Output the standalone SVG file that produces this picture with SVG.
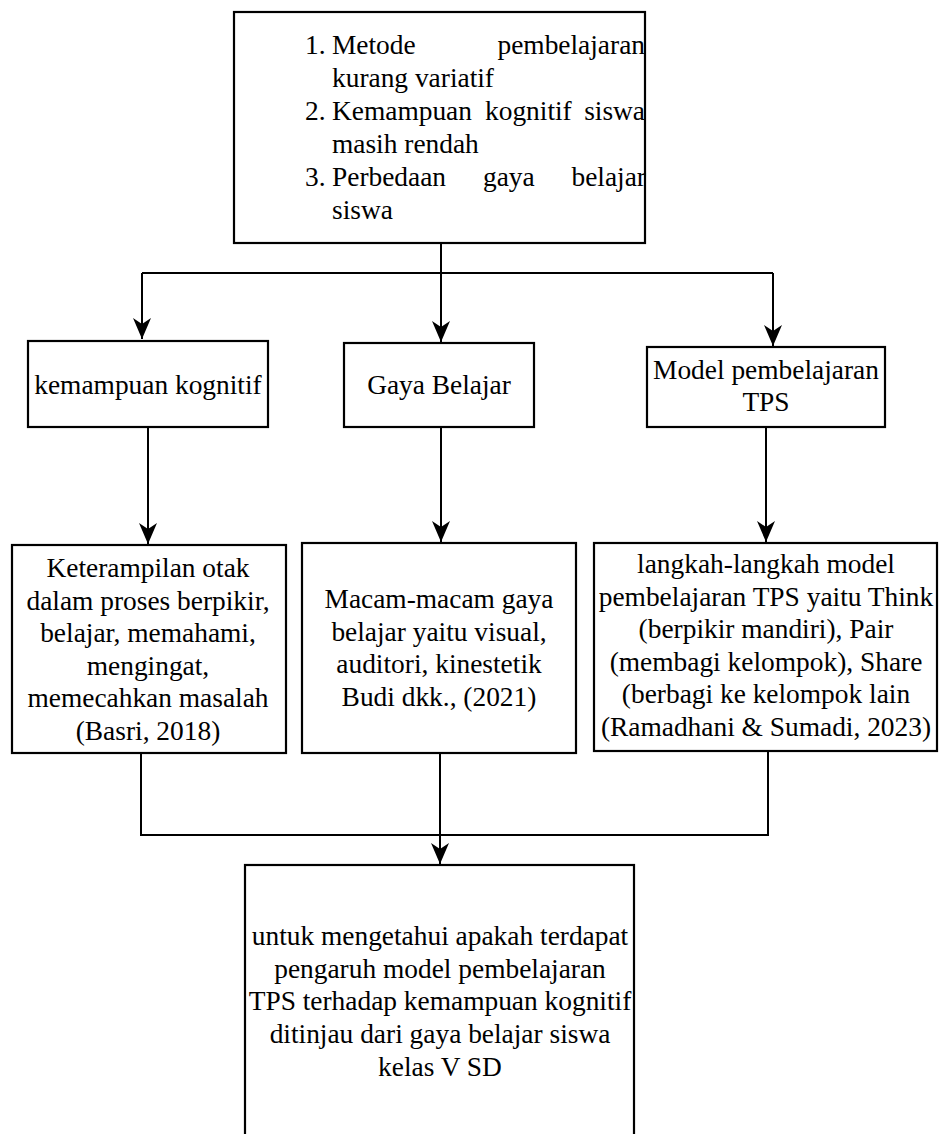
<svg xmlns="http://www.w3.org/2000/svg" width="940" height="1134" viewBox="0 0 940 1134">
<style>
.box{fill:#fff;stroke:#000;stroke-width:2.2}
.t{font-family:"Liberation Serif","Times New Roman",serif;font-size:27.4px;fill:#000}
.c{text-anchor:middle}
.e{text-anchor:end}
.ln{fill:none;stroke:#000;stroke-width:2}
</style>
<defs>
<marker id="arr" markerUnits="userSpaceOnUse" markerWidth="24" markerHeight="22" viewBox="-22 -11 24 22" refX="0" refY="0" orient="auto">
<path d="M0,0 L-21,-9 L-15,0 L-21,9 Z" fill="#000"/>
</marker>
</defs>
<rect width="940" height="1134" fill="#fff"/>
<g id="connectors">
<path class="ln" d="M441,243 V274" stroke-width="4"/>
<path class="ln" d="M142,273 H773"/>
<path class="ln" d="M142,273 V339" marker-end="url(#arr)"/>
<path class="ln" d="M441,273 V342" marker-end="url(#arr)"/>
<path class="ln" d="M773,273 V346" marker-end="url(#arr)"/>
<path class="ln" d="M148,427 V544" marker-end="url(#arr)"/>
<path class="ln" d="M441,427 V542" marker-end="url(#arr)"/>
<path class="ln" d="M766,427 V542" marker-end="url(#arr)"/>
<path class="ln" d="M141,753 V835 H768 V751"/>
<path class="ln" d="M440,753 V864" marker-end="url(#arr)"/>
</g>
<g id="problems">
<rect class="box" x="234" y="12" width="411" height="231"/>
<text class="t" x="305" y="54">1.</text>
<text class="t" x="332" y="54">Metode</text>
<text class="t e" x="645" y="54">pembelajaran</text>
<text class="t" x="332" y="87">kurang variatif</text>
<text class="t" x="305" y="120">2.</text>
<text class="t" x="332" y="120">Kemampuan</text>
<text class="t" x="485" y="120">kognitif</text>
<text class="t e" x="645" y="120">siswa</text>
<text class="t" x="332" y="153">masih rendah</text>
<text class="t" x="305" y="186">3.</text>
<text class="t" x="332" y="186">Perbedaan</text>
<text class="t" x="483" y="186">gaya</text>
<text class="t e" x="646" y="186">belajar</text>
<text class="t" x="332" y="219">siswa</text>
</g>
<g id="kemampuan">
<rect class="box" x="28" y="341" width="240" height="86"/>
<text class="t c" x="148" y="394">kemampuan kognitif</text>
</g>
<g id="gaya">
<rect class="box" x="344" y="343" width="190" height="84"/>
<text class="t c" x="439" y="394">Gaya Belajar</text>
</g>
<g id="model">
<rect class="box" x="647" y="347" width="238" height="80"/>
<text class="t c" x="766" y="379">Model pembelajaran</text>
<text class="t c" x="766" y="411">TPS</text>
</g>
<g id="def-kognitif">
<rect class="box" x="12" y="545" width="274" height="208"/>
<text class="t c" x="148" y="577">Keterampilan otak</text>
<text class="t c" x="148" y="609.5">dalam proses berpikir,</text>
<text class="t c" x="148" y="642">belajar, memahami,</text>
<text class="t c" x="148" y="674.5">mengingat,</text>
<text class="t c" x="148" y="707">memecahkan masalah</text>
<text class="t c" x="148" y="739.5">(Basri, 2018)</text>
</g>
<g id="def-gaya">
<rect class="box" x="302" y="543" width="274" height="210"/>
<text class="t c" x="439" y="608">Macam-macam gaya</text>
<text class="t c" x="439" y="640.5">belajar yaitu visual,</text>
<text class="t c" x="439" y="673">auditori, kinestetik</text>
<text class="t c" x="439" y="705.5">Budi dkk., (2021)</text>
</g>
<g id="def-tps">
<rect class="box" x="594" y="543" width="343" height="208"/>
<text class="t c" x="766" y="573">langkah-langkah model</text>
<text class="t c" x="766" y="605.5">pembelajaran TPS yaitu Think</text>
<text class="t c" x="766" y="638">(berpikir mandiri), Pair</text>
<text class="t c" x="766" y="670.5">(membagi kelompok), Share</text>
<text class="t c" x="766" y="703">(berbagi ke kelompok lain</text>
<text class="t c" x="766" y="735.5">(Ramadhani &amp; Sumadi, 2023)</text>
</g>
<g id="tujuan">
<rect class="box" x="245" y="865" width="389" height="290"/>
<text class="t c" x="440" y="945">untuk mengetahui apakah terdapat</text>
<text class="t c" x="440" y="977.5">pengaruh model pembelajaran</text>
<text class="t c" x="440" y="1010">TPS terhadap kemampuan kognitif</text>
<text class="t c" x="440" y="1043">ditinjau dari gaya belajar siswa</text>
<text class="t c" x="440" y="1076">kelas V SD</text>
</g>
</svg>
